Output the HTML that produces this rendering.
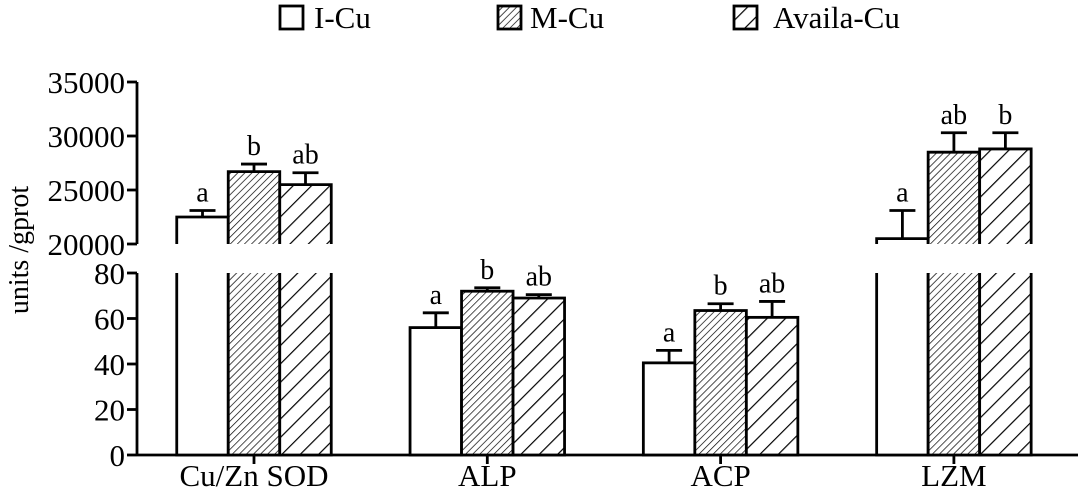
<!DOCTYPE html>
<html><head><meta charset="utf-8"><style>
body{margin:0;background:#fff}
svg{display:block;font-family:"Liberation Serif",serif}
</style></head><body>
<svg id="c" width="1080" height="493" viewBox="0 0 1080 493">
<defs>
<pattern id="pm" patternUnits="userSpaceOnUse" width="5" height="5" patternTransform="rotate(45)"><rect width="5" height="5" fill="#fff"/><line x1="0" y1="0" x2="0" y2="5" stroke="#000" stroke-width="1.4"/></pattern>
<pattern id="pa" patternUnits="userSpaceOnUse" width="13" height="13" patternTransform="rotate(45)"><rect width="13" height="13" fill="#fff"/><line x1="0" y1="0" x2="0" y2="13" stroke="#000" stroke-width="2.4"/></pattern>
</defs>
<g id="legend">
<rect x="280" y="6" width="23" height="23" fill="#fff" stroke="#000" stroke-width="2.8"/>
<text x="314" y="28" font-size="31">I-Cu</text>
<rect x="498" y="6" width="23" height="23" fill="url(#pm)" stroke="#000" stroke-width="2.8"/>
<text x="530" y="28" font-size="31">M-Cu</text>
<rect x="734" y="6" width="23" height="23" fill="url(#pa)" stroke="#000" stroke-width="2.8"/>
<text x="773" y="28" font-size="31">Availa-Cu</text>
</g>
<text transform="translate(28,250) rotate(-90)" text-anchor="middle" font-size="28">units /gprot</text>
<g id="g"></g>
</svg>
<script>
const categories=["Cu/Zn SOD","ALP","ACP","LZM"];
const iCu=[22500,56,40.5,20500];
const iCuErr=[600,6.5,5.5,2600];
const mCu=[26700,72,63.5,28500];
const mCuErr=[700,1.5,3,1800];
const avCu=[25500,69,60.5,28800];
const avCuErr=[1100,1.5,7,1500];
const iLetters=["a","a","a","a"];
const mLetters=["b","b","b","ab"];
const avLetters=["ab","ab","ab","b"];
const upperTicks=[20000,25000,30000,35000];
const lowerTicks=[0,20,40,60,80];

const NS="http://www.w3.org/2000/svg";
const g=document.getElementById('g');
function mk(t,a,p){const e=document.createElementNS(NS,t);for(const k in a)e.setAttribute(k,a[k]);(p||g).appendChild(e);return e;}
const axX=137, uTop=82, uBot=244, lTop=273, lBot=455, SW=2.8;
function yU(v){return uBot-(v-20000)/15000*(uBot-uTop);}
function yL(v){return lBot-v/80*(lBot-lTop);}
function yv(v){return v>80?yU(v):yL(v);}
function xC(i){return 254+i*233.3;}
const bw=51.5;

let e=mk('line',{x1:axX,y1:uTop,x2:axX,y2:uBot,stroke:'#000','stroke-width':SW});

e=mk('line',{x1:axX,y1:lTop,x2:axX,y2:lBot,stroke:'#000','stroke-width':SW});

e=mk('line',{x1:axX,y1:lBot,x2:1078,y2:lBot,stroke:'#000','stroke-width':SW});

upperTicks.forEach(v=>{const y=yU(v);
 mk('line',{x1:127,y1:y,x2:axX,y2:y,stroke:'#000','stroke-width':SW});
 const t=mk('text',{x:125,y:y+11,'text-anchor':'end','font-size':31});t.textContent=v;
 });
lowerTicks.forEach(v=>{const y=yL(v);
 mk('line',{x1:127,y1:y,x2:axX,y2:y,stroke:'#000','stroke-width':SW});
 const t=mk('text',{x:125,y:y+11,'text-anchor':'end','font-size':31});t.textContent=v;
 });
categories.forEach((c,i)=>{const x=xC(i);
 mk('line',{x1:x,y1:lBot,x2:x,y2:lBot+9,stroke:'#000','stroke-width':SW});
 const t=mk('text',{x:x,y:486,'text-anchor':'middle','font-size':31});t.textContent=c;
 });

function bar(x0,v,err,fill,letter,name){
 const x1=x0+bw;
 const grp=mk('g',{});
 
 let top;
 if(v>80){
  mk('rect',{x:x0,y:lTop,width:bw,height:lBot-lTop,fill:fill},grp);
  mk('polyline',{points:`${x0},${lTop} ${x0},${lBot} ${x1},${lBot} ${x1},${lTop}`,fill:'none',stroke:'#000','stroke-width':SW},grp);
  top=yU(v);
  mk('rect',{x:x0,y:top,width:bw,height:uBot-top,fill:fill},grp);
  mk('polyline',{points:`${x0},${uBot} ${x0},${top} ${x1},${top} ${x1},${uBot}`,fill:'none',stroke:'#000','stroke-width':SW},grp);
 } else {
  top=yL(v);
  mk('rect',{x:x0,y:top,width:bw,height:lBot-top,fill:fill,stroke:'#000','stroke-width':SW},grp);
 }
 const ye=yv(v+err), xm=x0+bw/2;
 mk('line',{x1:xm,y1:top,x2:xm,y2:ye,stroke:'#000','stroke-width':SW},grp);
 mk('line',{x1:xm-13,y1:ye,x2:xm+13,y2:ye,stroke:'#000','stroke-width':SW},grp);
 const t=mk('text',{x:xm,y:ye-9,'text-anchor':'middle','font-size':28},grp);t.textContent=letter;
}
categories.forEach((c,i)=>{const x=xC(i)-bw*1.5;
 bar(x,iCu[i],iCuErr[i],'#fff',iLetters[i],'bar-i-cu');
 bar(x+bw,mCu[i],mCuErr[i],'url(#pm)',mLetters[i],'bar-m-cu');
 bar(x+2*bw,avCu[i],avCuErr[i],'url(#pa)',avLetters[i],'bar-availa-cu');
});
</script>
</body></html>
